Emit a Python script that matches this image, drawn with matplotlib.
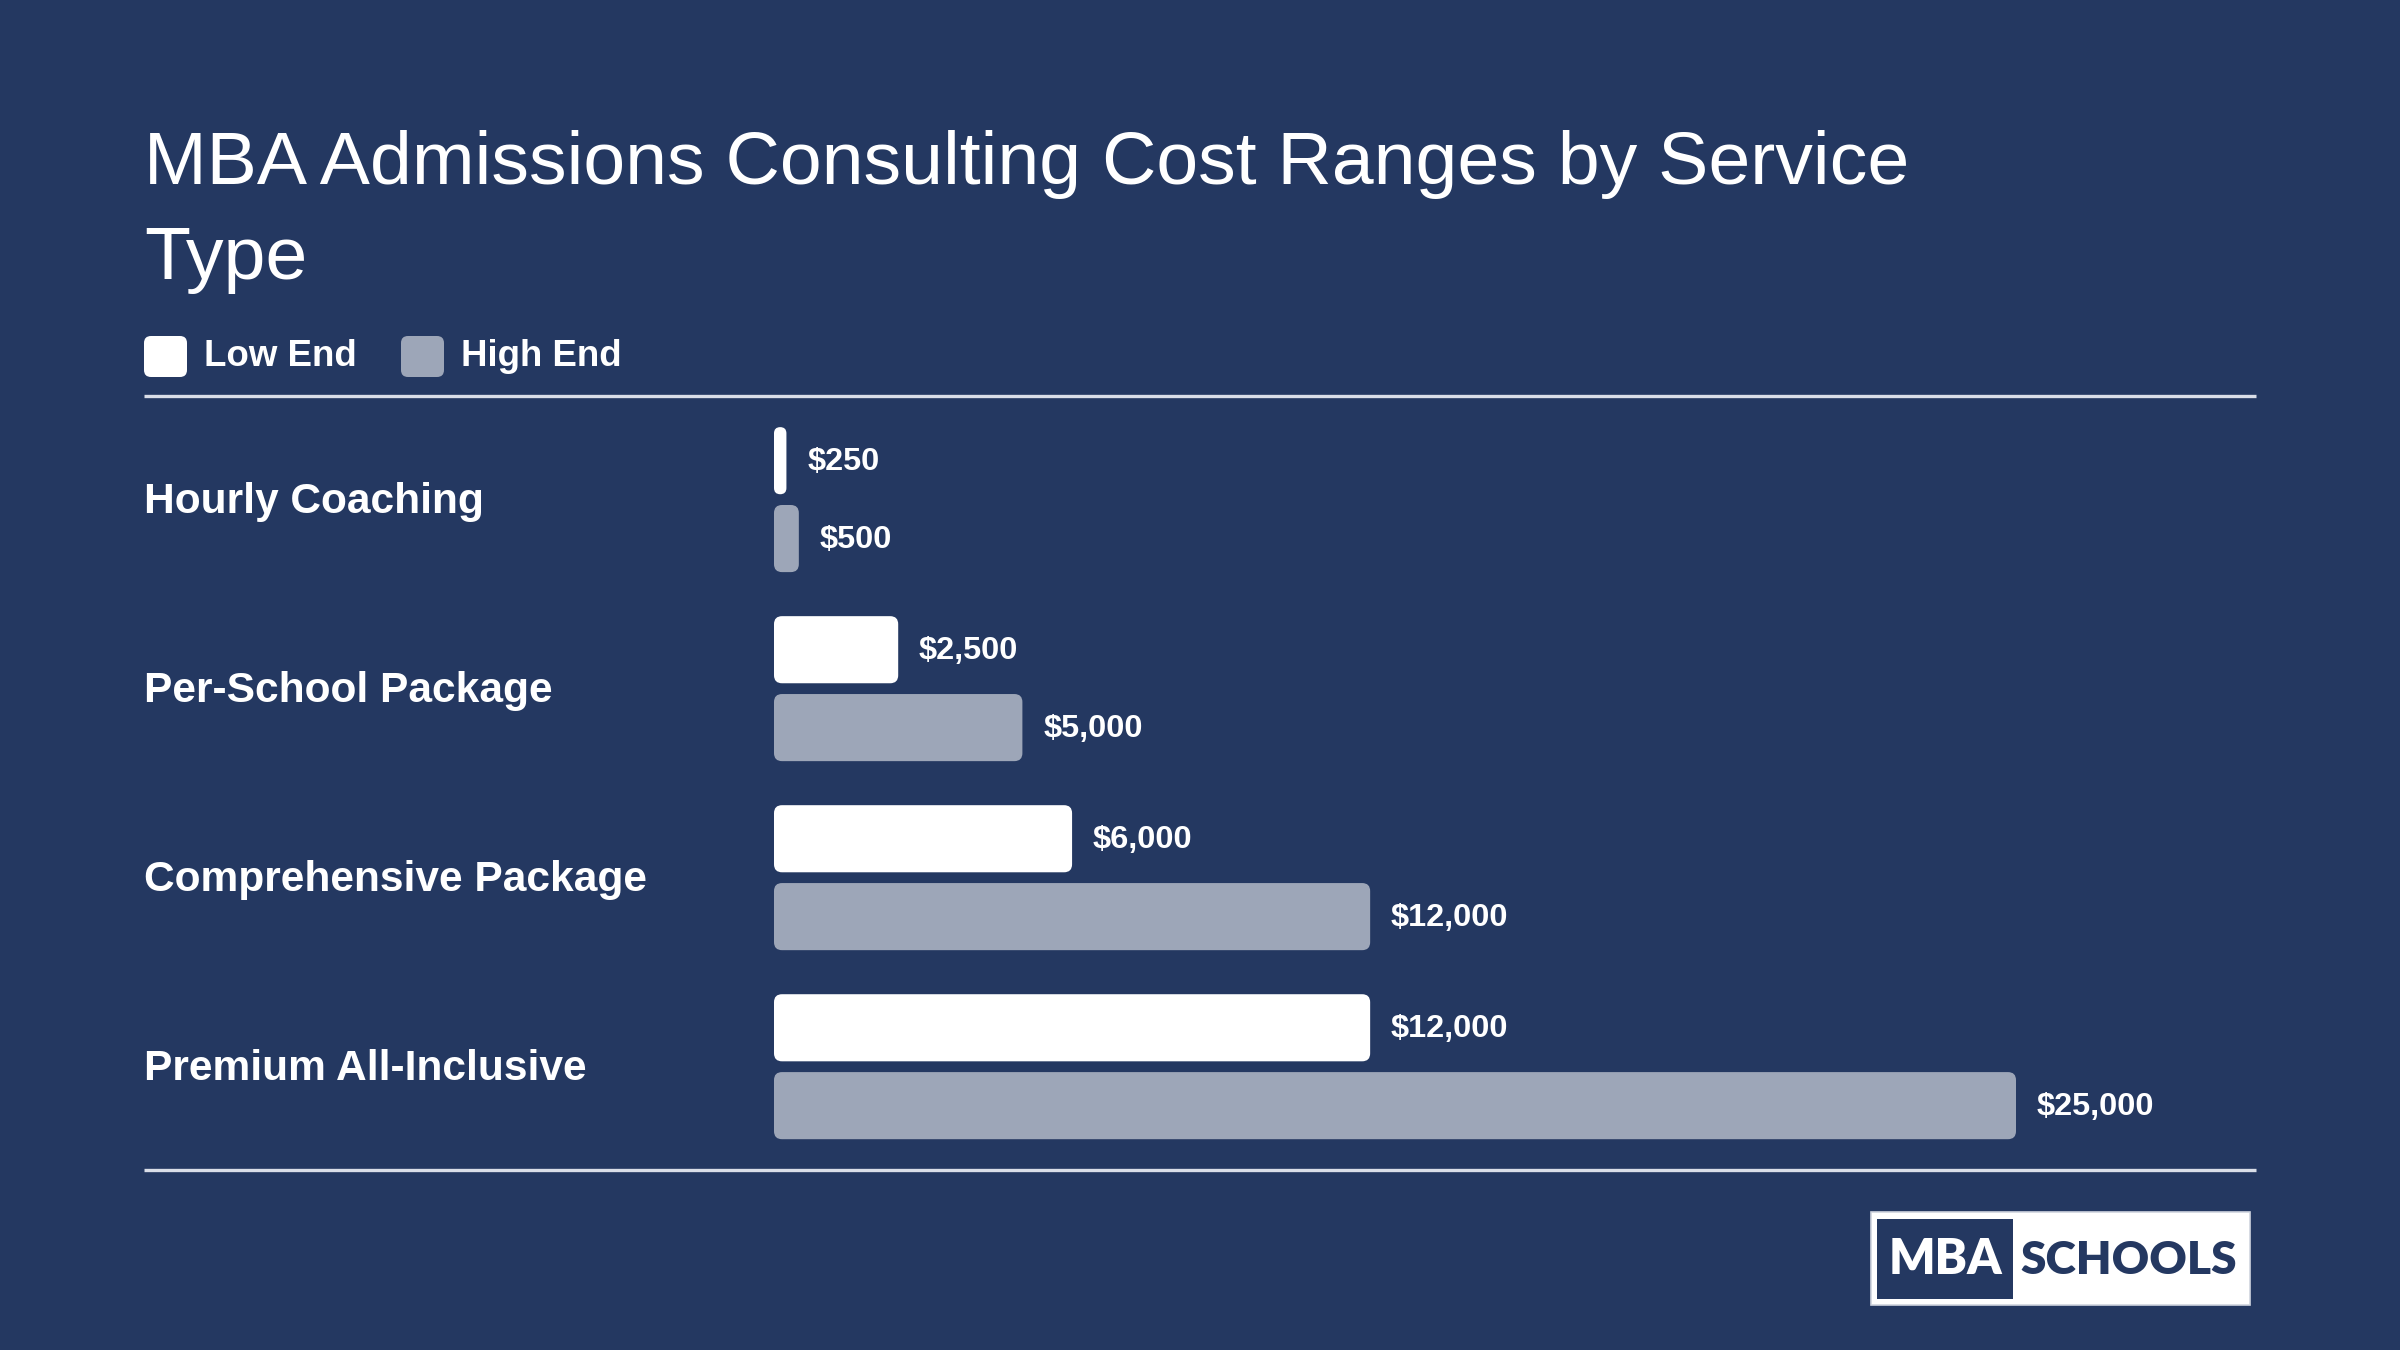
import numpy as np
import matplotlib.pyplot as plt
from matplotlib.patches import FancyBboxPatch, Rectangle
from matplotlib.transforms import blended_transform_factory, offset_copy

# data
services = ['Hourly Coaching', 'Per-School Package', 'Comprehensive Package', 'Premium All-Inclusive']
low_end = [250, 2500, 6000, 12000]
high_end = [500, 5000, 12000, 25000]
series_names = ['Low End', 'High End']

BG = '#243861'
WHITE = '#ffffff'
GREY = '#9da6b8'
RULE = '#dadee8'
FONT = 'Liberation Sans'

W, H, DPI = 2400, 1350, 200
fig = plt.figure(figsize=(W / DPI, H / DPI), dpi=DPI, facecolor=BG)

# overlay in pixel units for title / legend / rules / logo
bg = fig.add_axes([0, 0, 1, 1])
bg.set_xlim(0, W)
bg.set_ylim(H, 0)
bg.axis('off')
bg.patch.set_alpha(0)

bg.text(144, 184, 'MBA Admissions Consulting Cost Ranges by Service', color=WHITE,
        fontsize=27.1, family=FONT, va='baseline', ha='left')
bg.text(144, 279, 'Type', color=WHITE, fontsize=27.1, family=FONT, va='baseline', ha='left')

# legend
for x0, name, col in [(144, series_names[0], WHITE), (401, series_names[1], GREY)]:
    bg.add_patch(FancyBboxPatch((x0, 336), 43, 41, boxstyle='round,pad=0,rounding_size=7',
                                fc=col, ec='none'))
    bg.text(x0 + 60, 357, name, color=WHITE, fontsize=13.2, family=FONT, weight='bold',
            va='center', ha='left')

# rules
bg.plot([144, 2256], [396, 396], color=RULE, lw=1.2, solid_capstyle='butt')
bg.plot([144, 2256], [1170, 1170], color=RULE, lw=1.2, solid_capstyle='butt')

# logo
bg.add_patch(Rectangle((1871, 1212), 379, 93, fc=WHITE, ec='#cfd4de', lw=0.6))
bg.add_patch(Rectangle((1877, 1219), 136, 80, fc=BG, ec='none'))
bg.text(1945, 1260, 'MBA', color=WHITE, fontsize=17.5, family='Lato', weight='heavy',
        ha='center', va='center')
bg.text(2129, 1260, 'SCHOOLS', color=BG, fontsize=16.6, family='Lato', weight='heavy',
        ha='center', va='center')

# bar chart
ax_left, ax_top, ax_bot = 774, 400, 1165
xmax = 30000
px_per_x = 1242 / 25000
ax_w = xmax * px_per_x
ax = fig.add_axes([ax_left / W, 1 - ax_bot / H, ax_w / W, (ax_bot - ax_top) / H])
ax.set_xlim(0, xmax)
ax.set_ylim(3.52, -0.527)
ax.axis('off')
ax.patch.set_alpha(0)

y = np.arange(len(services))
bar_h = 0.355
off = 0.206
y_per_px = (3.52 + 0.527) / (ax_bot - ax_top)
x_per_px = 1 / px_per_x
aspect = y_per_px / x_per_px
r = 8 * x_per_px

for vals, col, dy in [(low_end, WHITE, -off), (high_end, GREY, off)]:
    for yi, v in zip(y, vals):
        rr = min(r, v / 2)
        ax.add_patch(FancyBboxPatch((0, yi + dy - bar_h / 2), v, bar_h,
                                    boxstyle=f'round,pad=0,rounding_size={rr}',
                                    mutation_aspect=aspect, fc=col, ec='none'))
        ax.annotate(f'${v:,}', (v, yi + dy), xytext=(7.5, -0.6), textcoords='offset points',
                    color=WHITE, fontsize=11.7, family=FONT, weight='bold',
                    va='center', ha='left')

trans = blended_transform_factory(fig.transFigure, ax.transData)
trans = offset_copy(trans, fig=fig, x=0, y=-1.0, units='points')
for yi, name in zip(y, services):
    ax.text(144 / W, yi, name, transform=trans, color=WHITE, fontsize=15.3, family=FONT,
            weight='bold', va='center', ha='left')

fig.savefig('out.png', dpi=DPI, facecolor=BG)
